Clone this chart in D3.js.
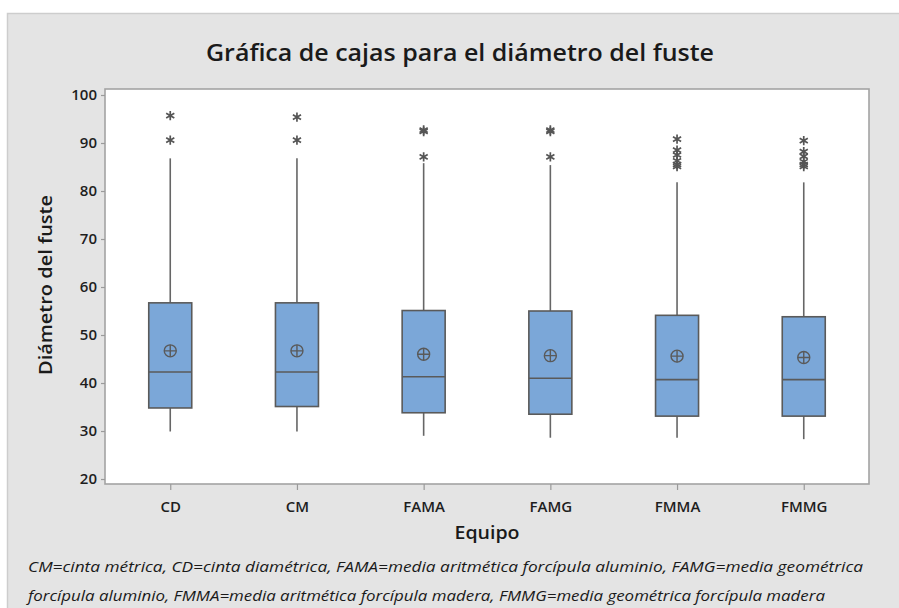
<!DOCTYPE html>
<html>
<head>
<meta charset="utf-8">
<script src="https://cdn.jsdelivr.net/npm/d3@7/dist/d3.min.js"></script>
<style>
  html, body { margin: 0; padding: 0; background: #ffffff; }
  svg { display: block; }
</style>
</head>
<body>
<svg id="chart" width="899" height="608"></svg>
<script>
// Boxplot summary per measuring device
const categories = ["CD", "CM", "FAMA", "FAMG", "FMMA", "FMMG"];
const whiskerLow  = [29.9, 29.9, 29.0, 28.6, 28.6, 28.3];
const q1          = [34.8, 35.1, 33.8, 33.5, 33.1, 33.1];
const medians     = [42.3, 42.3, 41.3, 41.0, 40.7, 40.7];
const q3          = [56.7, 56.7, 55.1, 55.0, 54.1, 53.8];
const whiskerHigh = [86.8, 86.8, 85.8, 85.4, 81.8, 81.8];
const means       = [46.7, 46.7, 46.0, 45.7, 45.6, 45.3];
const outliers    = [
  [90.6, 95.7],
  [90.6, 95.4],
  [87.1, 92.4, 92.7],
  [87.1, 92.4, 92.7],
  [85.1, 85.5, 86.3, 87.5, 88.5, 90.8],
  [85.1, 85.5, 86.1, 87.2, 88.2, 90.5]
];
const yTicks = [20, 30, 40, 50, 60, 70, 80, 90, 100];

const titleText = "Gráfica de cajas para el diámetro del fuste";
const xTitle = "Equipo";
const yTitle = "Diámetro del fuste";
const noteLines = [
  "CM=cinta métrica, CD=cinta diamétrica, FAMA=media aritmética forcípula aluminio, FAMG=media geométrica",
  "forcípula aluminio, FMMA=media aritmética forcípula madera, FMMG=media geométrica forcípula madera"
];

const svg = d3.select("#chart");
const font = "'Open Sans', 'Noto Sans', sans-serif";

// Grey panel behind the whole chart
svg.append("rect")
  .attr("x", 7.5).attr("y", 13.5)
  .attr("width", 899).attr("height", 608)
  .attr("fill", "#e4e4e4")
  .attr("stroke", "#cdcdcd").attr("stroke-width", 1.5);

const plot = { left: 105, right: 869, top: 89, bottom: 484 };

const x = d3.scalePoint()
  .domain(categories)
  .range([plot.left, plot.right])
  .padding(0.515);

const y = d3.scaleLinear()
  .domain([18.96, 101.25])
  .range([plot.bottom, plot.top]);

// Plot area
svg.append("rect")
  .attr("x", plot.left).attr("y", plot.top)
  .attr("width", plot.right - plot.left).attr("height", plot.bottom - plot.top)
  .attr("fill", "#ffffff")
  .attr("stroke", "#a3a3a3").attr("stroke-width", 1.6);

// Axes
const yAxis = svg.append("g")
  .attr("transform", `translate(${plot.left},0)`)
  .call(d3.axisLeft(y).tickValues(yTicks).tickSize(4).tickPadding(4).tickFormat(d3.format("d")));
const xAxis = svg.append("g")
  .attr("transform", `translate(0,${plot.bottom})`)
  .call(d3.axisBottom(x).tickSize(6).tickPadding(8));
[yAxis, xAxis].forEach(g => {
  g.select(".domain").remove();
  g.selectAll(".tick line").attr("stroke", "#9a9a9a").attr("stroke-width", 1.2);
  g.selectAll(".tick text")
    .attr("fill", "#1e1e1e")
    .style("font-family", font)
    .style("font-weight", "600")
    .style("font-size", "15px");
});
xAxis.selectAll(".tick text").attr("dy", "0.9em");

const boxW = 43;
const stroke = "#5a5a5a";

const groups = svg.append("g").selectAll("g")
  .data(categories)
  .join("g");

// Whiskers
groups.append("line")
  .attr("x1", d => x(d)).attr("x2", d => x(d))
  .attr("y1", (d, i) => y(whiskerHigh[i]))
  .attr("y2", (d, i) => y(q3[i]))
  .attr("stroke", "#666").attr("stroke-width", 1.6);
groups.append("line")
  .attr("x1", d => x(d)).attr("x2", d => x(d))
  .attr("y1", (d, i) => y(q1[i]))
  .attr("y2", (d, i) => y(whiskerLow[i]))
  .attr("stroke", "#666").attr("stroke-width", 1.6);

// Boxes
groups.append("rect")
  .attr("x", d => x(d) - boxW / 2)
  .attr("width", boxW)
  .attr("y", (d, i) => y(q3[i]))
  .attr("height", (d, i) => y(q1[i]) - y(q3[i]))
  .attr("fill", "#7ba7d8")
  .attr("stroke", stroke).attr("stroke-width", 1.6);

// Medians
groups.append("line")
  .attr("x1", d => x(d) - boxW / 2).attr("x2", d => x(d) + boxW / 2)
  .attr("y1", (d, i) => y(medians[i])).attr("y2", (d, i) => y(medians[i]))
  .attr("stroke", stroke).attr("stroke-width", 1.6);

// Mean symbol: circle with a cross
const meanR = 6;
groups.append("circle")
  .attr("cx", d => x(d)).attr("cy", (d, i) => y(means[i]))
  .attr("r", meanR)
  .attr("fill", "none").attr("stroke", stroke).attr("stroke-width", 1.4);
groups.append("path")
  .attr("d", (d, i) => {
    const cx = x(d), cy = y(means[i]);
    return `M${cx - meanR},${cy}H${cx + meanR}M${cx},${cy - meanR}V${cy + meanR}`;
  })
  .attr("stroke", stroke).attr("stroke-width", 1.4).attr("fill", "none");

// Outliers as asterisks
const s = 4.7;
const starPath = (cx, cy) => {
  const dx = s * 0.866, dy = s * 0.5;
  return `M${cx},${cy - s}V${cy + s}` +
         `M${cx - dx},${cy - dy}L${cx + dx},${cy + dy}` +
         `M${cx - dx},${cy + dy}L${cx + dx},${cy - dy}`;
};
groups.each(function(d, i) {
  d3.select(this).selectAll("path.outlier")
    .data(outliers[i])
    .join("path")
    .attr("class", "outlier")
    .attr("d", v => starPath(x(d), y(v)))
    .attr("stroke", "#555").attr("stroke-width", 1.7).attr("fill", "none");
});

// Titles
svg.append("text")
  .attr("x", 460).attr("y", 61)
  .attr("text-anchor", "middle")
  .attr("textLength", 508).attr("lengthAdjust", "spacingAndGlyphs")
  .style("font-family", font).style("font-weight", "600").style("font-size", "23px")
  .attr("fill", "#1a1a1a")
  .text(titleText);

svg.append("text")
  .attr("x", 487).attr("y", 539)
  .attr("text-anchor", "middle")
  .attr("textLength", 65).attr("lengthAdjust", "spacingAndGlyphs")
  .style("font-family", font).style("font-weight", "600").style("font-size", "18.5px")
  .attr("fill", "#1a1a1a")
  .text(xTitle);

svg.append("text")
  .attr("transform", `translate(52,285) rotate(-90)`)
  .attr("text-anchor", "middle")
  .attr("textLength", 180).attr("lengthAdjust", "spacingAndGlyphs")
  .style("font-family", font).style("font-weight", "600").style("font-size", "18.5px")
  .attr("fill", "#1a1a1a")
  .text(yTitle);

// Footnote
const noteLengths = [835, 797];
svg.append("g").selectAll("text")
  .data(noteLines)
  .join("text")
  .attr("x", 28)
  .attr("y", (d, i) => 572 + i * 29)
  .attr("textLength", (d, i) => noteLengths[i])
  .attr("lengthAdjust", "spacingAndGlyphs")
  .style("font-family", font).style("font-style", "italic").style("font-size", "15px")
  .attr("fill", "#1a1a1a")
  .text(d => d);
</script>
</body>
</html>
